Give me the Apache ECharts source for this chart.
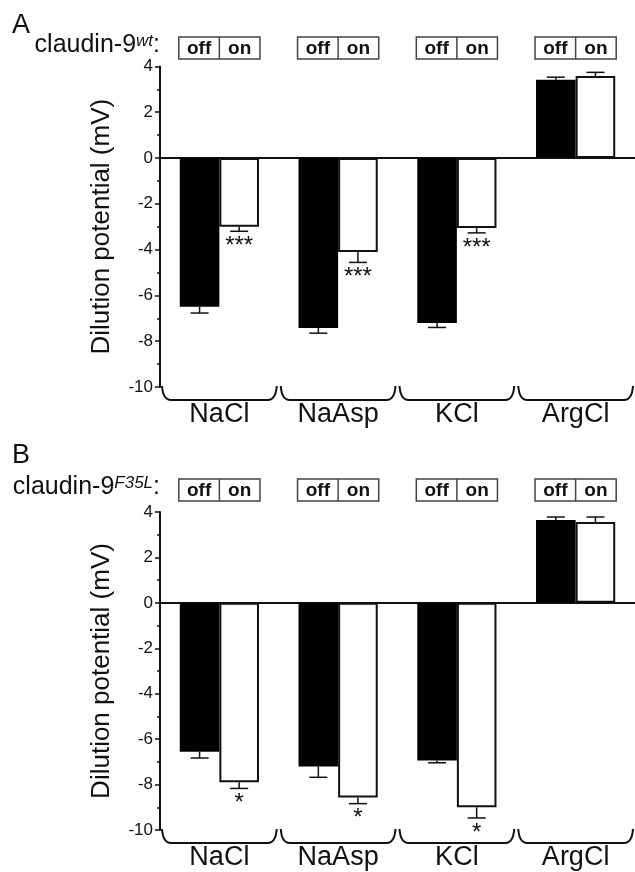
<!DOCTYPE html>
<html lang="en">
<head>
    <meta charset="UTF-8">
    <title>Dilution potential</title>
    <style>
        html, body { margin: 0; padding: 0; background: #fff; }
        #main { width: 635px; height: 872px; }
    </style>
</head>
<body>
<div id="main"></div>
<script src="https://cdn.jsdelivr.net/npm/echarts@6/dist/echarts.min.js"></script>
<script>
    // data
    var categories = ['NaCl', 'NaAsp', 'KCl', 'ArgCl'];

    // panel A: claudin-9 wt
    var offA = [-6.5, -7.42, -7.2, 3.42];
    var offErrA = [0.27, 0.23, 0.2, 0.11];
    var onA = [-3.0, -4.1, -3.06, 3.58];
    var onErrA = [0.2, 0.46, 0.21, 0.16];
    var sigA = ['***', '***', '***', ''];

    // panel B: claudin-9 F35L
    var offB = [-6.55, -7.2, -6.94, 3.65];
    var offErrB = [0.28, 0.48, 0.1, 0.13];
    var onB = [-7.9, -8.57, -9.0, 3.56];
    var onErrB = [0.27, 0.27, 0.47, 0.22];
    var sigB = ['*', '*', '*', ''];

    var FONT = '"Liberation Sans", Arial, Helvetica, sans-serif';
    var INK = '#111';

    var chart = echarts.init(document.getElementById('main'));

    function errSeries(vals, errs, sigs, side, gi) {
        return {
            type: 'custom',
            xAxisIndex: gi, yAxisIndex: gi,
            z: 5,
            silent: true,
            data: vals.map(function (v, i) { return [i, v, errs[i]]; }),
            renderItem: function (params, api) {
                var i = api.value(0), v = api.value(1), e = api.value(2);
                var cw = api.size([1, 0])[0];
                var end = v < 0 ? v - e : v + e;
                var p0 = api.coord([i, v]);
                var p1 = api.coord([i, end]);
                var x = p0[0] + side * cw / 6;
                var kids = [
                    { type: 'line', shape: { x1: x, y1: p0[1], x2: x, y2: p1[1] },
                      style: { stroke: INK, lineWidth: 1.5 } },
                    { type: 'line', shape: { x1: x - 9, y1: p1[1], x2: x + 9, y2: p1[1] },
                      style: { stroke: INK, lineWidth: 1.5 } }
                ];
                var s = sigs[params.dataIndex];
                if (s) {
                    kids.push({ type: 'text', style: { text: s, x: x, y: p1[1] + 3,
                        align: 'center', verticalAlign: 'top', fill: INK,
                        font: '24px ' + FONT } });
                }
                return { type: 'group', children: kids };
            }
        };
    }

    function decoSeries(gi, boxTop) {
        return {
            type: 'custom',
            xAxisIndex: gi, yAxisIndex: gi,
            z: 6,
            silent: true,
            data: categories.map(function (c, i) { return [i, -10]; }),
            renderItem: function (params, api) {
                var i = api.value(0);
                var cw = api.size([1, 0])[0];
                var pb = api.coord([i, -10]);
                var pt = api.coord([i, 4]);
                var xL = pb[0] - cw / 2 + 2, xR = pb[0] + cw / 2 - 2;
                var y0 = pb[1] - 1, y1 = pb[1] + 13;
                var bw = cw / 3 + 1;
                var by = pt[1] - boxTop;
                return { type: 'group', children: [
                    { type: 'path', shape: { pathData:
                        'M' + xL + ' ' + y0 + ' Q' + (xL + 1) + ' ' + y1 + ' ' + (xL + 9) + ' ' + y1 +
                        ' L' + (xR - 9) + ' ' + y1 + ' Q' + (xR - 1) + ' ' + y1 + ' ' + xR + ' ' + y0 },
                      style: { stroke: INK, lineWidth: 2, fill: null } },
                    { type: 'text', style: { text: categories[i], x: pb[0], y: y0 + 29,
                        align: 'center', verticalAlign: 'middle', fill: INK, font: '27px ' + FONT } },
                    { type: 'rect', shape: { x: pb[0] - bw, y: by, width: bw * 2, height: 22 },
                      style: { stroke: '#444', lineWidth: 1.5, fill: '#fff' } },
                    { type: 'line', shape: { x1: pb[0], y1: by, x2: pb[0], y2: by + 22 },
                      style: { stroke: '#444', lineWidth: 1.5 } },
                    { type: 'text', style: { text: 'off', x: pb[0] - bw / 2, y: by + 11.5,
                        align: 'center', verticalAlign: 'middle', fill: INK, font: 'bold 19px ' + FONT } },
                    { type: 'text', style: { text: 'on', x: pb[0] + bw / 2, y: by + 11.5,
                        align: 'center', verticalAlign: 'middle', fill: INK, font: 'bold 19px ' + FONT } }
                ] };
            }
        };
    }

    function xAx(gi) {
        return {
            type: 'category', gridIndex: gi, data: categories,
            axisLine: { onZero: true, lineStyle: { color: INK, width: 2 } },
            axisTick: { show: false },
            axisLabel: { show: false },
            splitLine: { show: false }
        };
    }

    function yAx(gi) {
        return {
            type: 'value', gridIndex: gi, min: -10, max: 4, interval: 2,
            name: 'Dilution potential (mV)', nameLocation: 'middle', nameGap: 45,
            nameTextStyle: { fontFamily: FONT, fontSize: 26, color: INK },
            axisLine: { show: true, onZero: false, lineStyle: { color: INK, width: 2 } },
            axisTick: { show: true, length: 5, lineStyle: { color: INK, width: 1.5 } },
            minorTick: { show: true, splitNumber: 2, length: 3, lineStyle: { color: INK, width: 1.5 } },
            axisLabel: { fontFamily: FONT, fontSize: 17, color: INK, margin: 7 },
            splitLine: { show: false }
        };
    }

    function barPair(off, on, gi) {
        return [
            { type: 'bar', name: 'off', xAxisIndex: gi, yAxisIndex: gi, data: off,
              barGap: '0%', barCategoryGap: '33.3%',
              itemStyle: { color: '#000', borderColor: '#000', borderWidth: 0 } },
            { type: 'bar', name: 'on', xAxisIndex: gi, yAxisIndex: gi, data: on,
              barGap: '0%', barCategoryGap: '33.3%',
              itemStyle: { color: '#fff', borderColor: INK, borderWidth: 2 } }
        ];
    }

    var supStyle = { fontFamily: FONT, fontSize: 17, fontStyle: 'italic', verticalAlign: 'top', fill: INK };

    var option = {
        animation: false,
        backgroundColor: '#fff',
        grid: [
            { left: 160, top: 66.4, width: 480, height: 320.6 },
            { left: 160, top: 512, width: 480, height: 318 }
        ],
        xAxis: [xAx(0), xAx(1)],
        yAxis: [yAx(0), yAx(1)],
        graphic: [
            { type: 'text', left: 12, top: 12, style: { text: 'A', font: '27px ' + FONT, fill: INK } },
            { type: 'text', left: 12, top: 442, style: { text: 'B', font: '27px ' + FONT, fill: INK } },
            { type: 'text', right: 475, top: 33, style: {
                text: 'claudin-9{sup|wt}:', font: '25px ' + FONT, fill: INK, rich: { sup: supStyle } } },
            { type: 'text', right: 475, top: 475, style: {
                text: 'claudin-9{sup|F35L}:', font: '25px ' + FONT, fill: INK, rich: { sup: supStyle } } }
        ],
        series: [].concat(
            barPair(offA, onA, 0),
            barPair(offB, onB, 1),
            [
                errSeries(offA, offErrA, ['', '', '', ''], -1, 0),
                errSeries(onA, onErrA, sigA, 1, 0),
                errSeries(offB, offErrB, ['', '', '', ''], -1, 1),
                errSeries(onB, onErrB, sigB, 1, 1),
                decoSeries(0, 29.4),
                decoSeries(1, 33)
            ]
        )
    };

    chart.setOption(option);
</script>
</body>
</html>
